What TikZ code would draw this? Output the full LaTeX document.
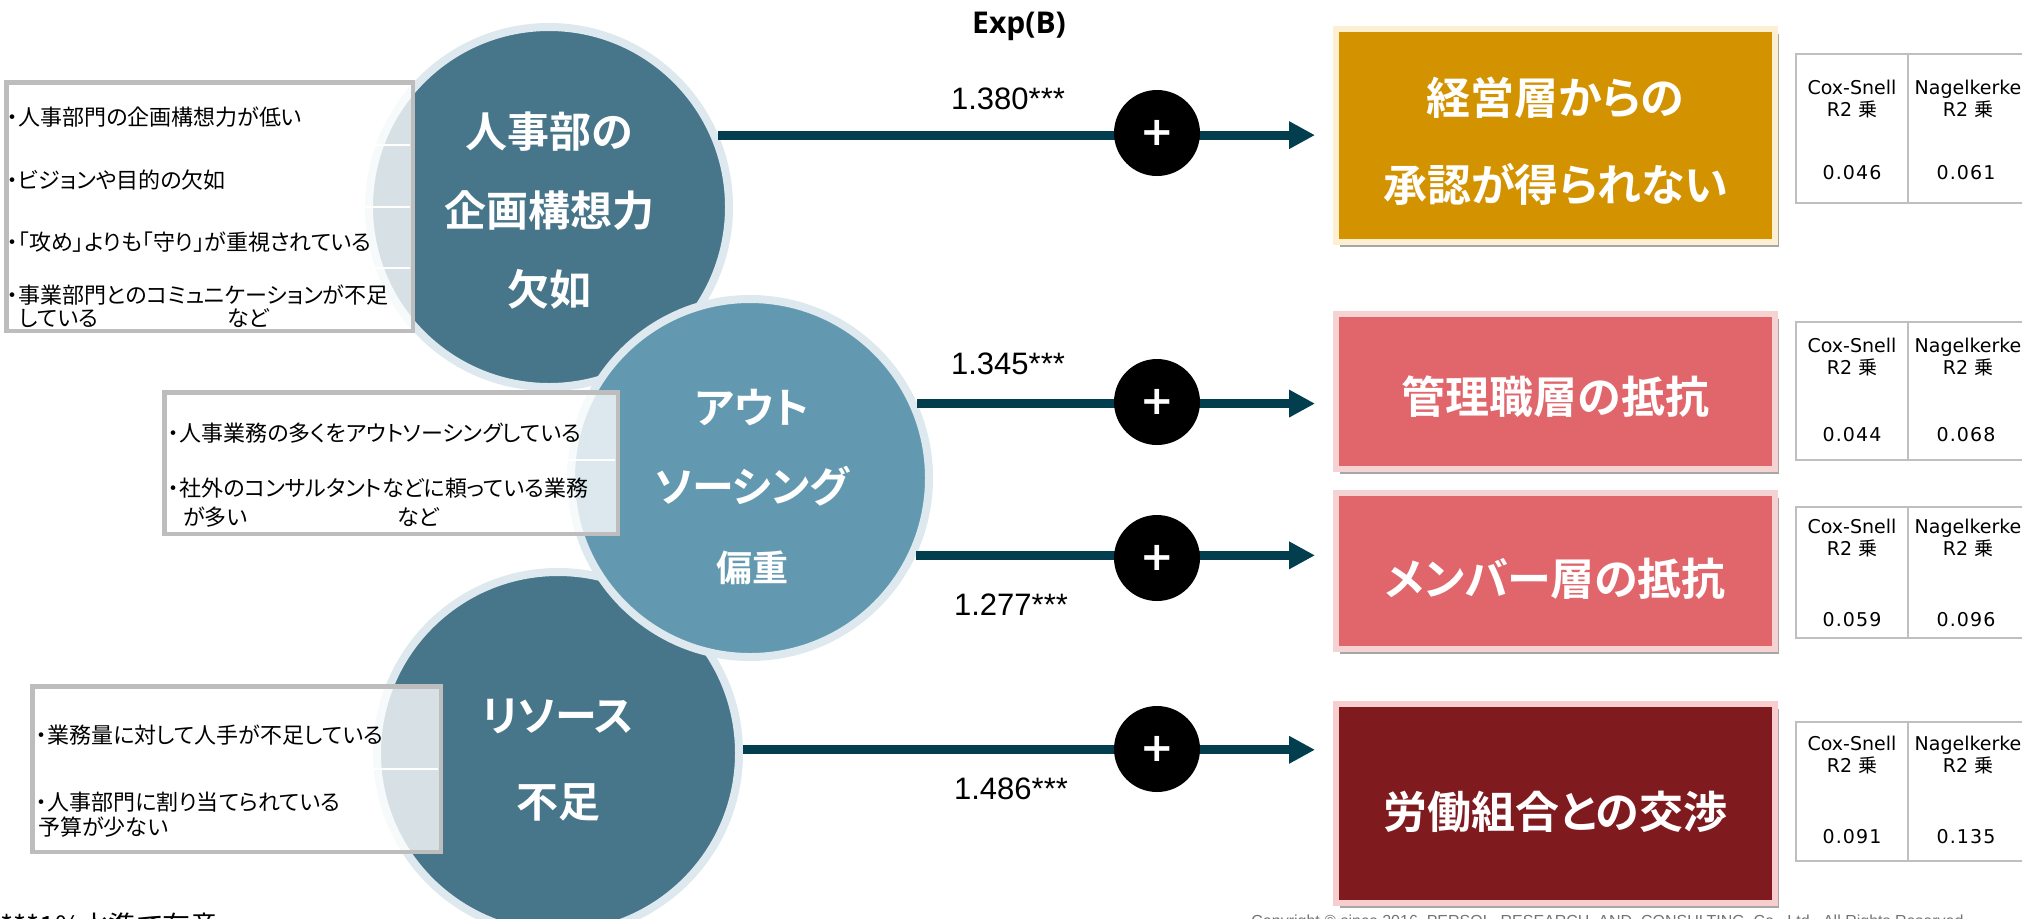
\documentclass[tikz,border=0pt]{standalone}
\usepackage{fontspec}
\setmainfont{Liberation Sans}
\newfontfamily\jp[RawFeature=+palt,BoldFont={Noto Sans CJK JP Bold}]{Noto Sans CJK JP}
\newfontfamily\dv{DejaVu Sans}
\newfontfamily\dvs[LetterSpace=6]{DejaVu Sans}
\newfontfamily\os[BoldFont={Open Sans Bold}]{Open Sans}
\usetikzlibrary{arrows.meta,calc,shadows}
\definecolor{cdark}{HTML}{47758A}
\definecolor{clight}{HTML}{6399B0}
\definecolor{cring}{HTML}{DDE9EE}
\definecolor{carrow}{HTML}{023E4E}
\definecolor{cgold}{HTML}{D39200}
\definecolor{cgoldb}{HTML}{FDEFD2}
\definecolor{cpink}{HTML}{E0666B}
\definecolor{cpinkb}{HTML}{F6D3D3}
\definecolor{cmaroon}{HTML}{7F1A1F}
\definecolor{cmaroonb}{HTML}{F7CDCD}
\definecolor{cgrid}{HTML}{BFBFBF}
\definecolor{cbox}{HTML}{BDBDBD}
\tikzset{
  bigcirc/.style={circle, draw=cring, line width=4pt, inner sep=0pt},
  ctext/.style={text=white, align=center, font=\jp\bfseries\fontsize{21}{39.5}\selectfont},
  lbox/.style={rectangle, draw=cbox, line width=1.5pt, fill=white, fill opacity=.78, inner sep=0pt},
  rowline/.style={white, line width=1.2pt},
  ltext/.style={anchor=west, inner sep=0pt, font=\jp\fontsize{11}{13}\selectfont},
  arr/.style={draw=carrow, line width=4.5pt, -{Triangle[length=13pt,width=13pt]}, shorten >=9pt},
  pc/.style={circle, fill=black, minimum size=43pt, inner sep=0pt, text=white, font=\dv\bfseries\fontsize{20}{20}\selectfont},
  num/.style={inner sep=0pt, font=\fontsize{15.5}{18}\selectfont},
  rbox/.style={rectangle, line width=3pt, inner sep=0pt, minimum width=219.5pt,
     drop shadow={shadow xshift=2pt, shadow yshift=-2.5pt, opacity=.35, fill=black}},
  btext/.style={text=white, align=center, font=\jp\bfseries\fontsize{22}{43.5}\selectfont},
  tgrid/.style={draw=cgrid, line width=1pt},
  thead/.style={align=center, inner sep=0pt, font=\dv\fontsize{9.5}{11}\selectfont},
  tval/.style={inner sep=0pt, font=\dvs\fontsize{9.5}{11}\selectfont},
}
\newcommand\rtab[7]{%
  \draw[tgrid] (1796,#1) rectangle (2026,#2);
  \draw[tgrid] (1908,#1) -- (1908,#2);
  \node[thead] (#7ha) at (1852,#3) {Cox-Snell\\R2 {\jp 乗}};
  \node[thead] (#7hb) at (1968,#3) {Nagelkerke\\R2 {\jp 乗}};
  \node[tval] (#7va) at (1852,#4) {#5};
  \node[tval] (#7vb) at (1966,#4) {#6};
}
\begin{document}
\begin{tikzpicture}[x=0.5pt,y=-0.5pt]
\clip (0,0) rectangle (2022,918);
\fill[white] (0,0) rectangle (2022,918);

% circles
\node[bigcirc, fill=cdark, minimum size=180pt] (c1) at (549,207) {};
\node[bigcirc, fill=cdark, minimum size=181pt] (c3) at (558,753) {};
\node[bigcirc, fill=clight, minimum size=179pt] (c2) at (750,478) {};
\node[ctext] (t1) at (549,211) {人事部の\\企画構想力\\欠如};
\node[ctext] (t2) at (752,487) {アウト\\ソーシング\\{\fontsize{18}{39.5}\selectfont 偏重}};
\node[ctext, font=\jp\bfseries\fontsize{21}{43}\selectfont] (t3) at (558,760) {リソース\\不足};

% left boxes
\node[lbox, minimum width=202.5pt, minimum height=123.5pt] (lb1) at (209.5,206.5) {};
\draw[rowline] (9,145) -- (410,145) (9,207) -- (410,207) (9,268) -- (410,268);
\draw[draw=cbox, line width=1.5pt] (lb1.south west) rectangle (lb1.north east);
\node[ltext] (l11) at (7,117) {・人事部門の企画構想力が低い};
\node[ltext] (l12) at (7,180) {・ビジョンや目的の欠如};
\node[ltext] (l13) at (7,242) {・「攻め」よりも「守り」が重視されている};
\node[ltext] (l14) at (7,295) {・事業部門とのコミュニケーションが不足};
\node[ltext] (l15) at (19,318) {している};
\node[ltext] (l16) at (227,318) {など};

\node[lbox, minimum width=226pt, minimum height=70pt] (lb2) at (391,463) {};
\draw[rowline] (167,460) -- (615,460);
\draw[draw=cbox, line width=1.5pt] (lb2.south west) rectangle (lb2.north east);
\node[ltext] (l21) at (168,433) {・人事業務の多くをアウトソーシングしている};
\node[ltext] (l22) at (168,488) {・社外のコンサルタントなどに頼っている業務};
\node[ltext] (l23) at (183,517) {が多い};
\node[ltext] (l24) at (397,517) {など};

\node[lbox, minimum width=203.5pt, minimum height=82pt] (lb3) at (236.5,769) {};
\draw[rowline] (35,769) -- (438,769);
\draw[draw=cbox, line width=1.5pt] (lb3.south west) rectangle (lb3.north east);
\node[ltext] (l31) at (36,735) {・業務量に対して人手が不足している};
\node[ltext] (l32) at (36,802) {・人事部門に割り当てられている};
\node[ltext] (l33) at (38,827) {予算が少ない};

% right boxes
\node[rbox, fill=cgold, draw=cgoldb, minimum height=106.5pt] (bA) at (1555.5,135.5) {};
\node[rbox, fill=cpink, draw=cpinkb, minimum height=77.5pt] (bB) at (1555.5,391.5) {};
\node[rbox, fill=cpink, draw=cpinkb, minimum height=78pt] (bC) at (1555.5,571) {};
\node[rbox, fill=cmaroon, draw=cmaroonb, minimum height=99.5pt] (bD) at (1555.5,803.5) {};
\node[btext] (tA) at ([yshift=-3pt]bA.center) {経営層からの\\承認が得られない};
\node[btext] (tB) at ([yshift=-2.5pt]bB.center) {管理職層の抵抗};
\node[btext] (tC) at ([yshift=-4pt]bC.center) {メンバー層の抵抗};
\node[btext] (tD) at ([yshift=-4pt]bD.center) {労働組合との交渉};

% arrows
\draw[arr] (c1.23) -- (c1.23 -| bA.west);
\draw[arr] (c2.24.5) -- (c2.24.5 -| bB.west);
\draw[arr] (c2.-25.9) -- (c2.-25.9 -| bC.west);
\draw[arr] (c3.1.2) -- (c3.1.2 -| bD.west);

\node[pc] (p1) at (1157,133) {+};
\node[pc] (p2) at (1157,402) {+};
\node[pc] (p3) at (1157,558) {+};
\node[pc] (p4) at (1157,749) {+};

\node[num] (n1) at (1008,99) {1.380***};
\node[num] (n2) at (1008,364) {1.345***};
\node[num] (n3) at (1011,605) {1.277***};
\node[num] (n4) at (1011,789) {1.486***};

\node[inner sep=0pt, font=\os\bfseries\fontsize{15}{18}\selectfont] (exp) at (1019,26) {Exp(B)};

% tables
\rtab{54}{203}{99}{173}{0.046}{0.061}{ta}
\rtab{322}{460}{357.5}{435}{0.044}{0.068}{tb}
\rtab{507}{638}{538.5}{620}{0.059}{0.096}{tc}
\rtab{722}{861}{755}{837}{0.091}{0.135}{td}

% footer
\node[anchor=base west, inner sep=0pt, font=\jp\fontsize{14}{16}\selectfont] (note) at (0,936) {***1\%水準で有意};
\node[anchor=base west, inner sep=0pt, text=black!55, font=\fontsize{8}{10}\selectfont] (copy) at (1251,926) {Copyright © since 2016\ \ PERSOL\ \ RESEARCH\ \ AND\ \ CONSULTING\ \ Co.,\ Ltd.\ \ All Rights Reserved};
\end{tikzpicture}
\end{document}
